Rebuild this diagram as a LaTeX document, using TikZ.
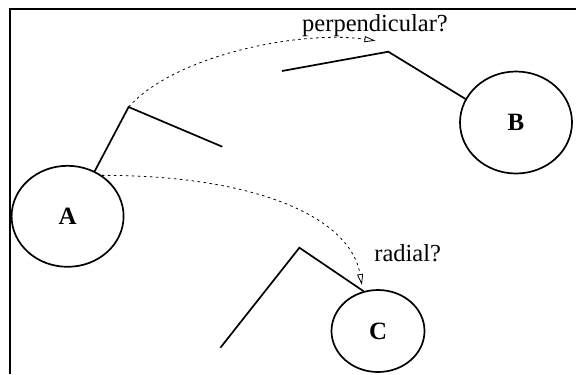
\documentclass[tikz,border=0pt]{standalone}
\usepackage{fontspec}
\setmainfont{Liberation Serif}
\usetikzlibrary{shapes.geometric, arrows.meta}

\begin{document}
\begin{tikzpicture}[x=1bp, y=-1bp,
    bubble/.style={draw, ellipse, line width=1.7bp, inner sep=0pt, font=\fontsize{25}{30}\selectfont\bfseries},
    arm/.style={line width=1.7bp},
    guess/.style={line width=0.8bp, dash pattern=on 2.5bp off 3.5bp,
        -{Triangle[open, length=11bp, width=6bp, line width=0.8bp]}},
    note/.style={anchor=base, font=\fontsize{24.6}{30}\selectfont}]
    \useasboundingbox (0,0) rectangle (576,374);
    \draw[line width=2bp] (10,374) -- (10,8.7) -- (576,8.7);
    % bodies
    \node[bubble, minimum width=112bp, minimum height=101bp] (A) at (67.6,216.3) {A};
    \node[bubble, minimum width=112bp, minimum height=102bp] (B) at (516,122.5) {B};
    \node[bubble, minimum width=93bp, minimum height=82bp] (C) at (378,331) {C};
    % bent arms
    \coordinate (v1) at (128.6,107);
    \coordinate (e1) at (222.3,146.7);
    \coordinate (v2) at (388.3,51.7);
    \coordinate (e2) at (282,71);
    \coordinate (v3) at (299.4,247.7);
    \coordinate (e3) at (220.4,347.7);
    \draw[arm] (A.59) -- (v1) -- (e1);
    \draw[arm] (e2) -- (v2) -- (B.155);
    \draw[arm] (e3) -- (v3) -- (C.110);
    % guesses
    \coordinate (tipB) at (375.5,40.7);
    \coordinate (tipC) at (361.9,285);
    \draw[guess] (v1) .. controls (175,55) and (300,30) .. (tipB);
    \draw[guess] (A.50) .. controls (250,175) and (350,215) .. (tipC);
    \node[note] (perp) at (375,31) {perpendicular?};
    \node[note] (rad) at (407.7,261.7) {radial?};
\end{tikzpicture}
\end{document}
